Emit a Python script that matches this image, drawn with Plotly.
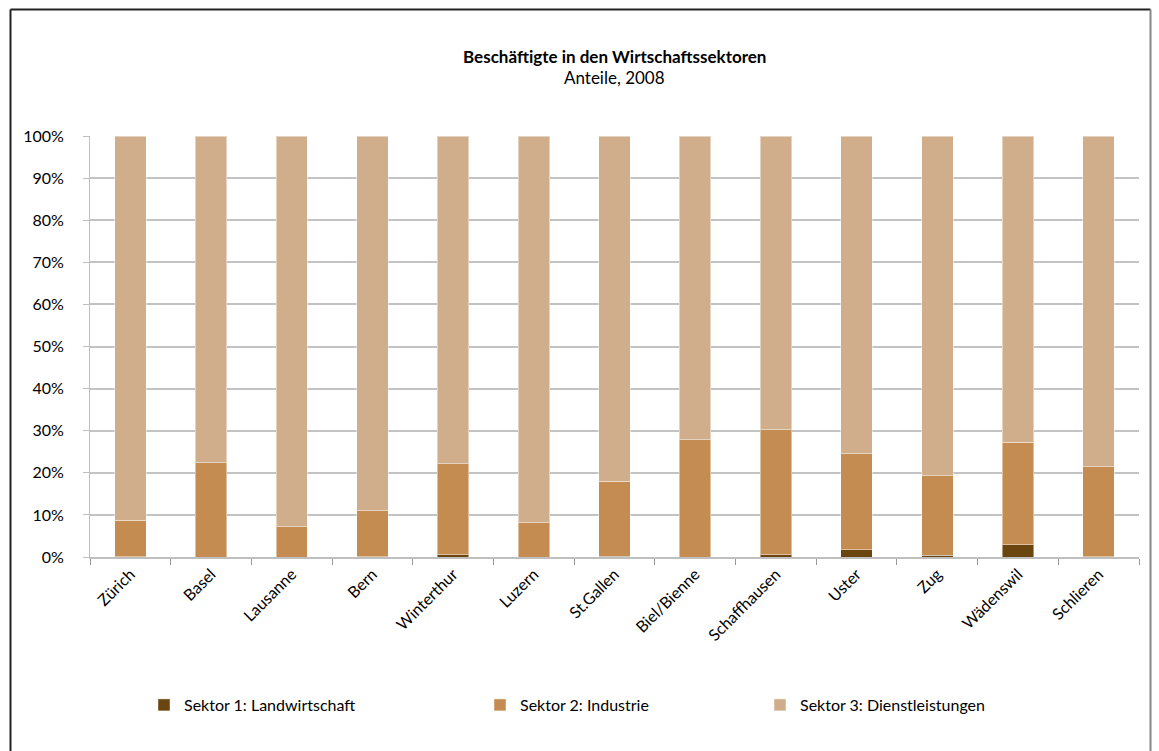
import plotly.graph_objects as go

cities = ["Zürich", "Basel", "Lausanne", "Bern", "Winterthur", "Luzern", "St.Gallen",
          "Biel/Bienne", "Schaffhausen", "Uster", "Zug", "Wädenswil", "Schlieren"]
sektor1 = [0.1, 0.0, 0.0, 0.1, 0.5, 0.0, 0.2, 0.0, 0.5, 1.7, 0.4, 2.9, 0.1]
sektor2 = [8.6, 22.4, 7.2, 10.9, 21.7, 8.1, 17.8, 27.9, 29.7, 22.8, 18.9, 24.3, 21.3]
sektor3 = [91.3, 77.6, 92.8, 89.0, 77.8, 91.9, 82.0, 72.1, 69.8, 75.5, 80.7, 72.8, 78.6]
y_ticks = [0, 10, 20, 30, 40, 50, 60, 70, 80, 90, 100]
y_tick_labels = [f"{v}%" for v in y_ticks]

names = ["Sektor 1: Landwirtschaft", "Sektor 2: Industrie", "Sektor 3: Dienstleistungen"]
colors = ["#6B4510", "#C48C50", "#D0AE8B"]
series = [sektor1, sektor2, sektor3]
legends = ["legend", "legend2", "legend3"]

FONT = "Lato"
W, H = 1159, 751
ML, MR, MT, MB = 90, 20, 136, 194
PW, PH = W - ML - MR, H - MT - MB

fig = go.Figure()
for name, col, vals, lg in zip(names, colors, series, legends):
    fig.add_trace(go.Bar(
        x=cities, y=vals, name=name, legend=lg,
        marker=dict(color=col, line=dict(color="rgba(255,255,255,0.45)", width=1)),
    ))

def px_x(p):
    return (p - ML) / PW

def px_y(p):
    return (H - MB - p) / PH

legend_common = dict(orientation="h", xanchor="left", yanchor="middle",
                     font=dict(family=FONT, size=16, color="#000"),
                     bgcolor="rgba(0,0,0,0)", itemwidth=30,
                     xref="paper", yref="paper")

fig.update_layout(
    width=W, height=H,
    margin=dict(l=ML, r=MR, t=MT, b=MB),
    paper_bgcolor="white", plot_bgcolor="white",
    barmode="stack", bargap=0.61,
    font=dict(family=FONT, size=16, color="#000"),
    showlegend=True,
    legend=dict(x=px_x(144), y=px_y(705), **legend_common),
    legend2=dict(x=px_x(480), y=px_y(705), **legend_common),
    legend3=dict(x=px_x(760), y=px_y(705), **legend_common),
    xaxis=dict(
        tickangle=-45, tickson="boundaries", ticks="outside", ticklen=6,
        tickcolor="#999", showline=True, linecolor="#bfbfbf", linewidth=1.5,
        tickfont=dict(family=FONT, size=16, color="#000"), showgrid=False,
    ),
    yaxis=dict(
        range=[0, 100], tickvals=y_ticks, ticktext=y_tick_labels,
        ticks="outside", ticklen=6, tickcolor="#bfbfbf",
        showgrid=True, gridcolor="#c3c3c3", gridwidth=1.5,
        showline=True, linecolor="#bfbfbf", linewidth=1,
        zeroline=False, ticklabelstandoff=16,
        tickfont=dict(family=FONT, size=16, color="#000"),
    ),
    annotations=[
        dict(text="<b>Beschäftigte in den Wirtschaftssektoren</b>", x=0.5, y=px_y(56),
             xref="paper", yref="paper", showarrow=False, xanchor="center", yanchor="middle",
             font=dict(family=FONT, size=17, color="#000")),
        dict(text="Anteile, 2008", x=0.5, y=px_y(77),
             xref="paper", yref="paper", showarrow=False, xanchor="center", yanchor="middle",
             font=dict(family=FONT, size=17, color="#000")),
    ],
    shapes=[
        dict(type="line", xref="paper", yref="paper",
             x0=px_x(10.5), x1=px_x(10.5), y0=px_y(770), y1=px_y(9.5),
             line=dict(color="#222", width=2), layer="below"),
        dict(type="line", xref="paper", yref="paper",
             x0=px_x(10.5), x1=px_x(1150.5), y0=px_y(9.5), y1=px_y(9.5),
             line=dict(color="#222", width=2), layer="below"),
        dict(type="line", xref="paper", yref="paper",
             x0=px_x(1150.5), x1=px_x(1150.5), y0=px_y(770), y1=px_y(9.5),
             line=dict(color="#888", width=2), layer="below"),
    ],
)

fig.write_html("out.html", config={"displayModeBar": False},
               post_script="document.body.style.margin='0';document.body.style.overflow='hidden';")
